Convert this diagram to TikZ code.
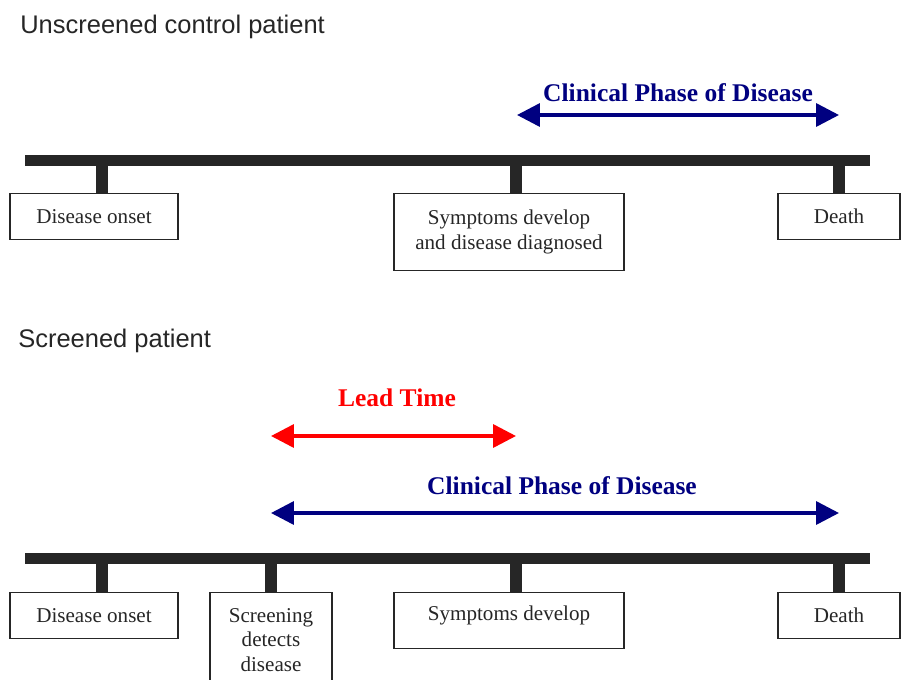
\documentclass[tikz,border=0pt]{standalone}
\usepackage{fontspec}
\setmainfont{Liberation Serif}
\setsansfont{Liberation Sans}
\usepackage{xcolor}
\usetikzlibrary{arrows.meta,positioning}

\definecolor{phaseblue}{RGB}{0,0,128}
\definecolor{leadred}{RGB}{255,0,0}
\definecolor{barink}{RGB}{38,38,38}

\begin{document}
\begin{tikzpicture}[
    x=0.02cm, y=-0.02cm,
    box/.style={rectangle, draw=barink, line width=0.6pt, align=center, anchor=north,
        font=\fontsize{12}{14}\selectfont, text=barink, inner sep=0pt, minimum height=46*0.02cm},
    title/.style={font=\sffamily\fontsize{14.5}{17}\selectfont, text=barink, anchor=base west, inner sep=0pt},
    phase/.style={font=\bfseries\fontsize{14.5}{17}\selectfont, anchor=base, inner sep=0pt},
    bar/.style={line width=0.22cm, barink},
    tick/.style={line width=0.24cm, barink},
    span/.style={{Triangle[length=13pt,width=13pt]}-{Triangle[length=13pt,width=13pt]}, line width=2pt}
]
    \useasboundingbox (0,0) rectangle (904,680);
    \clip (0,0) rectangle (904,680);

    % unscreened control patient
    \node[title] (title1) at (20,33) {Unscreened control patient};
    \coordinate (bar1w) at (25,160);
    \coordinate (bar1e) at (870,160);
    \draw[bar] (bar1w) -- (bar1e);

    \node[box, minimum width=168*0.02cm] (onset1) at (94,193) {Disease onset};
    \node[box, minimum width=230*0.02cm, minimum height=77*0.02cm] (symptoms1) at (509,193) {Symptoms develop\\and disease diagnosed};
    \node[box, minimum width=122*0.02cm] (death1) at (839,193) {Death};

    \coordinate (t11) at (102,160);
    \coordinate (t12) at (516,160);
    \coordinate (t13) at (839,160);
    \draw[tick] (t11) -- (onset1.north -| t11);
    \draw[tick] (t12) -- (symptoms1.north -| t12);
    \draw[tick] (t13) -- (death1.north -| t13);

    \coordinate (cp1s) at (517,115);
    \coordinate (cp1e) at (839,115);
    \draw[span, phaseblue] (cp1s) -- (cp1e);
    \node[phase, text=phaseblue] (clinical1) at (678,101) {Clinical Phase of Disease};

    % screened patient
    \node[title] (title2) at (18,347) {Screened patient};
    \coordinate (bar2w) at (25,558);
    \coordinate (bar2e) at (870,558);
    \draw[bar] (bar2w) -- (bar2e);

    \node[box, minimum width=168*0.02cm] (onset2) at (94,592) {Disease onset};
    \node[box, minimum width=122*0.02cm, minimum height=95*0.02cm] (screen2) at (271,592) {Screening\\detects\\disease};
    \node[box, minimum width=230*0.02cm, minimum height=56*0.02cm, text height=8.5pt, text depth=8.5pt] (symptoms2) at (509,592) {Symptoms develop};
    \node[box, minimum width=122*0.02cm] (death2) at (839,592) {Death};

    \coordinate (t21) at (102,558);
    \coordinate (t22) at (271,558);
    \coordinate (t23) at (516,558);
    \coordinate (t24) at (839,558);
    \draw[tick] (t21) -- (onset2.north -| t21);
    \draw[tick] (t22) -- (screen2.north -| t22);
    \draw[tick] (t23) -- (symptoms2.north -| t23);
    \draw[tick] (t24) -- (death2.north -| t24);

    \coordinate (lts) at (271,436);
    \coordinate (lte) at (516,436);
    \draw[span, leadred] (lts) -- (lte);
    \node[phase, text=leadred] (lead) at (397,406) {Lead Time};

    \coordinate (cp2s) at (271,513);
    \coordinate (cp2e) at (839,513);
    \draw[span, phaseblue] (cp2s) -- (cp2e);
    \node[phase, text=phaseblue] (clinical2) at (562,494) {Clinical Phase of Disease};
\end{tikzpicture}
\end{document}
